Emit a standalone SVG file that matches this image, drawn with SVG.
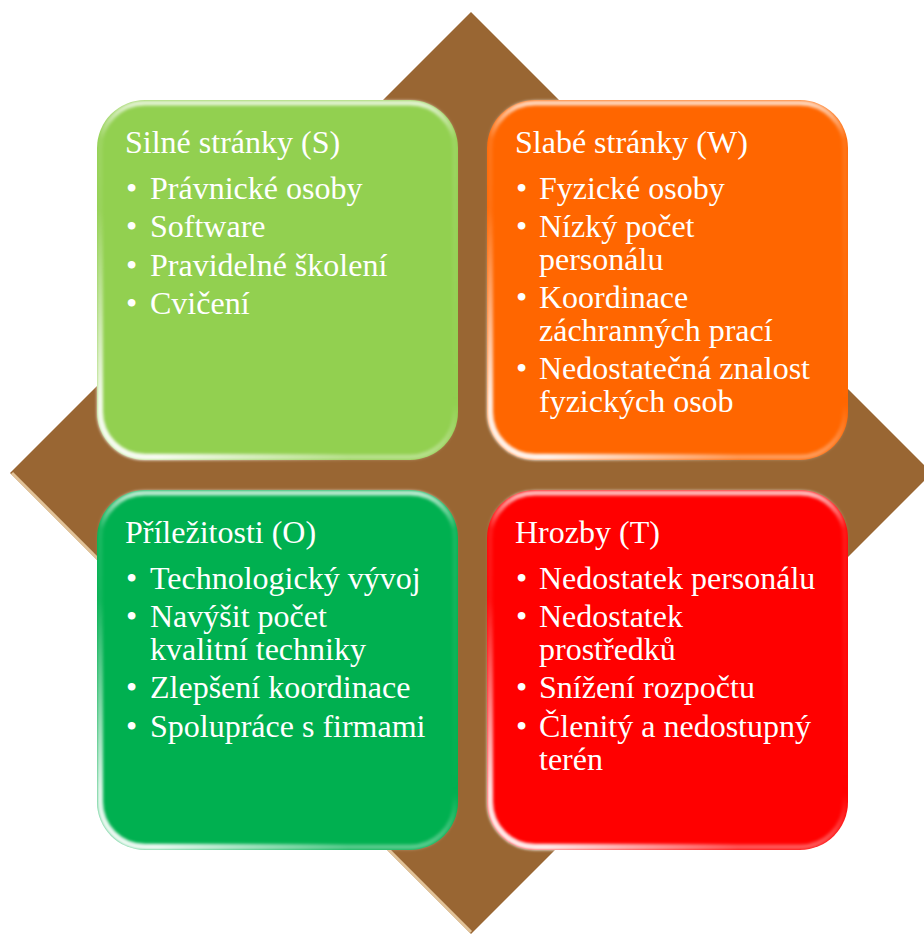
<svg xmlns="http://www.w3.org/2000/svg" width="924" height="934" viewBox="0 0 924 934">
<defs>
<linearGradient id="gloss" x1="0" y1="0" x2="0" y2="1">
<stop offset="0" stop-color="#fff" stop-opacity="0.75"/>
<stop offset="0.1" stop-color="#fff" stop-opacity="0.1"/>
<stop offset="0.85" stop-color="#fff" stop-opacity="0"/>
<stop offset="1" stop-color="#fff" stop-opacity="0.35"/>
</linearGradient>
<linearGradient id="bl" x1="1" y1="0" x2="0" y2="1">
<stop offset="0.65" stop-color="#fff" stop-opacity="0"/>
<stop offset="0.92" stop-color="#fff" stop-opacity="0.9"/>
</linearGradient>
<filter id="blur" x="-5%" y="-5%" width="110%" height="110%"><feGaussianBlur stdDeviation="1.5"/></filter>
</defs>
<style>
.t{font-family:"Liberation Serif","Times New Roman",serif;font-size:32px;fill:#fff}
.hl{fill:none;stroke:url(#gloss);stroke-width:5;filter:url(#blur)}
.hl2{fill:none;stroke:url(#bl);stroke-width:6;filter:url(#blur)}
</style>
<g id="diamond">
<polygon points="471,12 932,473 471,934 10,473" fill="#996633"/>
<polyline points="12,473 471,932" fill="none" stroke="#f3d9b0" stroke-width="3" opacity="0.8"/>
</g>
<g id="connectors"></g>
<g id="node-s">
<rect x="97" y="100" width="361" height="360" rx="48" fill="#92D050"/>
<rect class="hl" x="100" y="103" width="355" height="354" rx="45"/>
<rect class="hl2" x="100" y="103" width="355" height="354" rx="45"/>
<text class="t" x="125" y="153">Silné stránky (S)</text>
<text class="t" x="126" y="199">•</text><text class="t" x="150" y="199">Právnické osoby</text>
<text class="t" x="126" y="237">•</text><text class="t" x="150" y="237">Software</text>
<text class="t" x="126" y="276">•</text><text class="t" x="150" y="276">Pravidelné školení</text>
<text class="t" x="126" y="314">•</text><text class="t" x="150" y="314">Cvičení</text>
</g>
<g id="node-w">
<rect x="487" y="100" width="361" height="360" rx="48" fill="#FF6600"/>
<rect class="hl" x="490" y="103" width="355" height="354" rx="45"/>
<rect class="hl2" x="490" y="103" width="355" height="354" rx="45"/>
<text class="t" x="515" y="153">Slabé stránky (W)</text>
<text class="t" x="516" y="199">•</text><text class="t" x="539" y="199">Fyzické osoby</text>
<text class="t" x="516" y="237">•</text><text class="t" x="539" y="237">Nízký počet</text>
<text class="t" x="539" y="270">personálu</text>
<text class="t" x="516" y="308">•</text><text class="t" x="539" y="308">Koordinace</text>
<text class="t" x="539" y="341">záchranných prací</text>
<text class="t" x="516" y="379">•</text><text class="t" x="539" y="379">Nedostatečná znalost</text>
<text class="t" x="539" y="412">fyzických osob</text>
</g>
<g id="node-o">
<rect x="97" y="490" width="361" height="360" rx="48" fill="#00B050"/>
<rect class="hl" x="100" y="493" width="355" height="354" rx="45"/>
<rect class="hl2" x="100" y="493" width="355" height="354" rx="45"/>
<text class="t" x="125" y="543">Příležitosti (O)</text>
<text class="t" x="126" y="589">•</text><text class="t" x="150" y="589">Technologický vývoj</text>
<text class="t" x="126" y="627">•</text><text class="t" x="150" y="627">Navýšit počet</text>
<text class="t" x="150" y="660">kvalitní techniky</text>
<text class="t" x="126" y="698">•</text><text class="t" x="150" y="698">Zlepšení koordinace</text>
<text class="t" x="126" y="737">•</text><text class="t" x="150" y="737">Spolupráce s firmami</text>
</g>
<g id="node-t">
<rect x="487" y="490" width="361" height="360" rx="48" fill="#FF0000"/>
<rect class="hl" x="490" y="493" width="355" height="354" rx="45"/>
<rect class="hl2" x="490" y="493" width="355" height="354" rx="45"/>
<text class="t" x="515" y="543">Hrozby (T)</text>
<text class="t" x="516" y="589">•</text><text class="t" x="539" y="589">Nedostatek personálu</text>
<text class="t" x="516" y="627">•</text><text class="t" x="539" y="627">Nedostatek</text>
<text class="t" x="539" y="660">prostředků</text>
<text class="t" x="516" y="698">•</text><text class="t" x="539" y="698">Snížení rozpočtu</text>
<text class="t" x="516" y="737">•</text><text class="t" x="539" y="737">Členitý a nedostupný</text>
<text class="t" x="539" y="770">terén</text>
</g>
</svg>
